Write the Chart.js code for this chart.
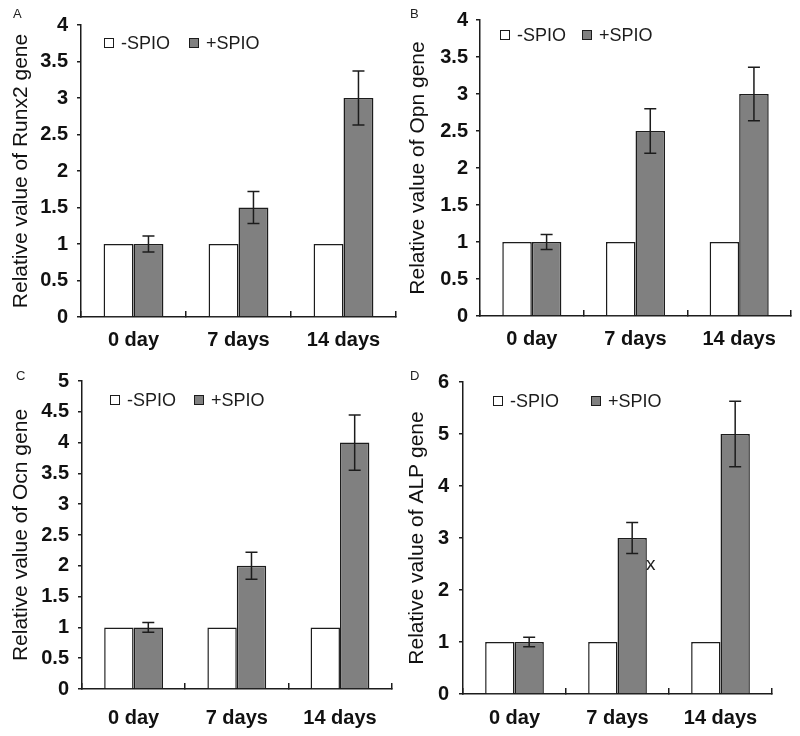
<!DOCTYPE html>
<html>
<head>
<meta charset="utf-8">
<script src="https://cdn.jsdelivr.net/npm/chart.js@4.4.0/dist/chart.umd.min.js"></script>
<style>
  body { margin: 0; background: #fff; }
  #wrap { position: relative; width: 800px; height: 736px; background: #fff; font-family: "Liberation Sans", Arial, sans-serif; }
  canvas { position: absolute; }
  .tag { position: absolute; font-size: 13px; color: #222; }
  .stray { position: absolute; font-size: 19px; color: #222; }
</style>
</head>
<body>
<div id="wrap">
  <canvas id="chartA" width="400" height="360" style="left:0;top:0"></canvas>
  <canvas id="chartB" width="400" height="360" style="left:400px;top:0"></canvas>
  <canvas id="chartC" width="400" height="376" style="left:0;top:360px"></canvas>
  <canvas id="chartD" width="400" height="376" style="left:400px;top:360px"></canvas>
  <div class="tag" style="left:13px;top:6px">A</div>
  <div class="tag" style="left:410px;top:6px">B</div>
  <div class="tag" style="left:16px;top:368px">C</div>
  <div class="tag" style="left:410px;top:368px">D</div>
  <div class="stray" style="left:646px;top:553px">x</div>
</div>
<script>
const days = ["0 day", "7 days", "14 days"];
const groups = ["-SPIO", "+SPIO"];

const runx2Minus = [1, 1, 1];
const runx2Plus = [1, 1.5, 3];
const runx2Err = [0.11, 0.22, 0.37];

const opnMinus = [1, 1, 1];
const opnPlus = [1, 2.5, 3];
const opnErr = [0.1, 0.3, 0.36];

const ocnMinus = [1, 1, 1];
const ocnPlus = [1, 2, 4];
const ocnErr = [0.08, 0.22, 0.45];

const alpMinus = [1, 1, 1];
const alpPlus = [1, 3, 5];
const alpErr = [0.09, 0.3, 0.63];

// y axis ranges: [max, step]
const runx2Axis = [4, 0.5];
const opnAxis = [4, 0.5];
const ocnAxis = [5, 0.5];
const alpAxis = [6, 1];

const INK = "#1c1c1c";
const FONT = "'Liberation Sans', Arial, sans-serif";

// error bars on top of the +SPIO bars
const errorBars = {
  id: "errorBars",
  afterDatasetsDraw(chart) {
    const ctx = chart.ctx;
    const y = chart.scales.y;
    chart.data.datasets.forEach((ds, i) => {
      if (!ds.errors) return;
      const meta = chart.getDatasetMeta(i);
      meta.data.forEach((bar, j) => {
        const v = ds.data[j], e = ds.errors[j];
        const top = y.getPixelForValue(v + e);
        const bot = y.getPixelForValue(v - e);
        ctx.save();
        ctx.strokeStyle = INK;
        ctx.lineWidth = 1.5;
        ctx.beginPath();
        ctx.moveTo(bar.x, top); ctx.lineTo(bar.x, bot);
        ctx.moveTo(bar.x - 6, top); ctx.lineTo(bar.x + 6, top);
        ctx.moveTo(bar.x - 6, bot); ctx.lineTo(bar.x + 6, bot);
        ctx.stroke();
        ctx.restore();
      });
    });
  }
};

// small legend inside the plot
const boxLegend = {
  id: "boxLegend",
  afterDraw(chart, args, opts) {
    const ctx = chart.ctx;
    const a = chart.chartArea;
    const cy = a.top + opts.dy;
    ctx.save();
    ctx.font = "18px " + FONT;
    ctx.textBaseline = "middle";
    chart.data.datasets.forEach((ds, i) => {
      const x = a.left + opts.dx[i];
      ctx.fillStyle = ds.backgroundColor;
      ctx.fillRect(x, cy - 5, 10, 10);
      ctx.strokeStyle = INK;
      ctx.lineWidth = 1;
      ctx.strokeRect(x + 0.5, cy - 4.5, 9, 9);
      ctx.fillStyle = INK;
      ctx.fillText(ds.label, x + 17, cy + 1);
    });
    ctx.restore();
  }
};

function makeChart(id, title, minus, plus, err, axis, lay) {
  return new Chart(document.getElementById(id), {
    type: "bar",
    data: {
      labels: days,
      datasets: [
        { label: groups[0], data: minus, backgroundColor: "#ffffff", borderColor: INK, borderWidth: 1.5 },
        { label: groups[1], data: plus, errors: err, backgroundColor: "#808080", borderColor: INK, borderWidth: 1.5 }
      ]
    },
    options: {
      responsive: false,
      animation: false,
      devicePixelRatio: 1,
      layout: { padding: { left: 0, top: lay.top, right: lay.right, bottom: 0 } },
      datasets: { bar: { categoryPercentage: 0.57, barPercentage: 1 } },
      plugins: {
        legend: { display: false },
        tooltip: { enabled: false },
        boxLegend: { dx: lay.legendX, dy: lay.legendY }
      },
      scales: {
        x: {
          grid: { offset: true, drawOnChartArea: false, drawTicks: true, tickLength: -6, color: INK, lineWidth: 1.5 },
          border: { color: INK, width: 1.5 },
          ticks: { padding: lay.xPad, color: "#111", font: { family: FONT, size: 20, weight: "bold" } },
          afterFit: s => { s.height = lay.xh; }
        },
        y: {
          min: 0,
          max: axis[0],
          ticks: {
            stepSize: axis[1],
            padding: lay.yPad,
            color: "#111",
            font: { family: FONT, size: 20, weight: "bold" },
            callback: v => String(Math.round(v * 10) / 10)
          },
          grid: { drawOnChartArea: false, drawTicks: true, tickLength: 4, color: INK, lineWidth: 1.5 },
          border: { color: INK, width: 1.5 },
          title: { display: true, text: title, color: "#111", font: { family: FONT, size: 21 }, padding: { top: lay.titlePad, bottom: 0 } },
          afterFit: s => { s.width = lay.left; }
        }
      }
    },
    plugins: [errorBars, boxLegend]
  });
}

makeChart("chartA", "Relative value of Runx2 gene", runx2Minus, runx2Plus, runx2Err, runx2Axis,
  { left: 81, top: 25, right: 4, xh: 43, xPad: 17, yPad: 9, titlePad: 9, legendX: [23, 108], legendY: 18 });
makeChart("chartB", "Relative value of Opn gene", opnMinus, opnPlus, opnErr, opnAxis,
  { left: 80, top: 20, right: 9, xh: 44, xPad: 17, yPad: 8, titlePad: 6, legendX: [20, 102], legendY: 15 });
makeChart("chartC", "Relative value of Ocn gene", ocnMinus, ocnPlus, ocnErr, ocnAxis,
  { left: 82, top: 18, right: 2, xh: 47, xPad: 23, yPad: 9, titlePad: 9, legendX: [28, 112], legendY: 19 });
makeChart("chartD", "Relative value of ALP gene", alpMinus, alpPlus, alpErr, alpAxis,
  { left: 63, top: 18, right: 28, xh: 42, xPad: 18, yPad: 10, titlePad: 5, legendX: [30, 128], legendY: 19 });
</script>
</body>
</html>
